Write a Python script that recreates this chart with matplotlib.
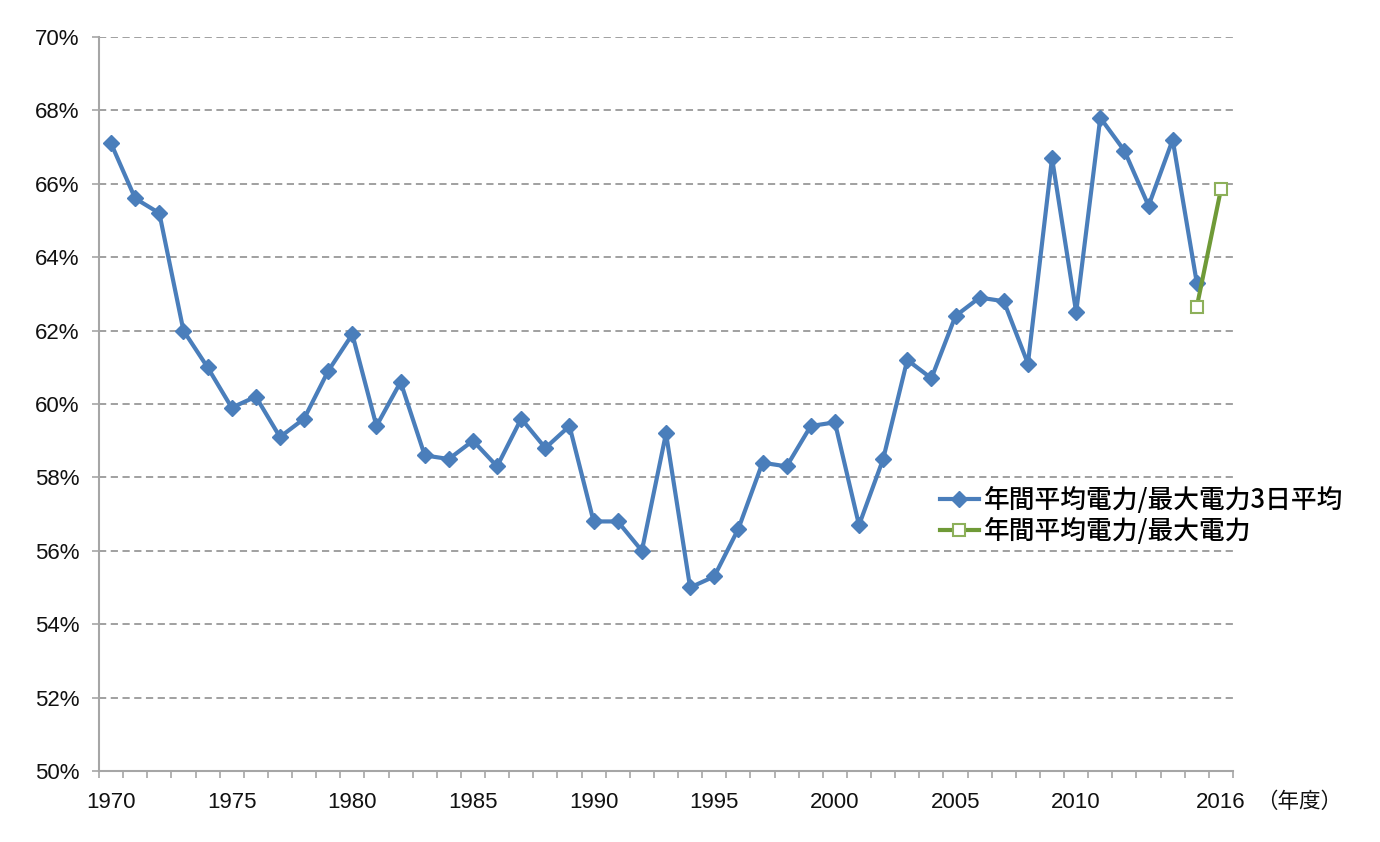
import matplotlib
matplotlib.use("Agg")
import matplotlib.pyplot as plt
from matplotlib.ticker import FixedLocator, FuncFormatter

years = list(range(1970, 2017))
ratio_3day = [67.1, 65.6, 65.2, 62.0, 61.0, 59.9, 60.2, 59.1, 59.6, 60.9,
              61.9, 59.4, 60.6, 58.6, 58.5, 59.0, 58.3, 59.6, 58.8, 59.4,
              56.8, 56.8, 56.0, 59.2, 55.0, 55.3, 56.6, 58.4, 58.3, 59.4,
              59.5, 56.7, 58.5, 61.2, 60.7, 62.4, 62.9, 62.8, 61.1, 66.7,
              62.5, 67.8, 66.9, 65.4, 67.2, 63.3]
ratio_max_years = [2015, 2016]
ratio_max = [62.65, 65.85]
label_years = [1970, 1975, 1980, 1985, 1990, 1995, 2000, 2005, 2010, 2016]
series_names = ["年間平均電力/最大電力3日平均", "年間平均電力/最大電力"]
yticks = [50, 52, 54, 56, 58, 60, 62, 64, 66, 68, 70]

plt.rcParams['font.family'] = ['Liberation Sans', 'Noto Sans CJK JP', 'DejaVu Sans']

W, H = 1380, 842
fig = plt.figure(figsize=(W / 100, H / 100), dpi=100)
L, R, T, B = 99, 1233, 37, 771
ax = fig.add_axes([L / W, 1 - B / H, (R - L) / W, (B - T) / H])

idx = {y: i for i, y in enumerate(years)}
x_blue = [idx[y] for y in years[:len(ratio_3day)]]
x_green = [idx[y] for y in ratio_max_years]

blue = "#4A7EBB"
green = "#6F9A37"
grey = "#A6A6A6"

ax.plot(x_blue, ratio_3day, color=blue, lw=3.0, marker='D', ms=8.5,
        mfc=blue, mec=blue, label=series_names[0], zorder=3)
ax.plot(x_green, ratio_max, color=green, lw=3.0, marker='s', ms=8,
        mfc="white", mec="#8DB05A", mew=1.5, label=series_names[1], zorder=4)

ax.set_xlim(-0.5, len(years) - 0.5)
ax.set_ylim(50, 70)
ax.set_yticks(yticks)
ax.yaxis.set_major_formatter(FuncFormatter(lambda v, p: f"{v:.0f}%"))
for v in yticks[1:]:
    ax.axhline(v, color="#999999", lw=1.3, ls=(0, (4, 2.5)), zorder=1)

ax.xaxis.set_major_locator(FixedLocator([idx[y] for y in label_years]))
ax.set_xticklabels([str(y) for y in label_years])
ax.xaxis.set_minor_locator(FixedLocator([i - 0.5 for i in range(len(years) + 1)]))
ax.tick_params(axis='x', which='major', length=0, pad=15, labelsize=16, colors='#111111')
ax.tick_params(axis='x', which='minor', length=5, width=1.2, color=grey, direction='out')
ax.tick_params(axis='y', which='major', length=5, width=1.2, color=grey, pad=9,
               labelsize=16, labelcolor='#111111')

for s in ['top', 'right']:
    ax.spines[s].set_visible(False)
for s in ['left', 'bottom']:
    ax.spines[s].set_color(grey)
    ax.spines[s].set_linewidth(1.5)

fig.text(1256 / W, 1 - 802 / H, "（年度）", fontsize=15.5, va='center', ha='left',
         family=['Noto Sans CJK JP', 'DejaVu Sans'], color='#111111')

leg = ax.legend(loc='center left', bbox_to_anchor=(940 / W, 1 - 516 / H),
                bbox_transform=fig.transFigure, frameon=False,
                prop={'family': ['Noto Sans CJK JP', 'DejaVu Sans'], 'size': 18.5,
                      'weight': 'medium'},
                handlelength=1.5, handletextpad=0.2, borderpad=0, borderaxespad=0,
                labelspacing=0.15)

fig.savefig("out.png", dpi=100, facecolor="white")
